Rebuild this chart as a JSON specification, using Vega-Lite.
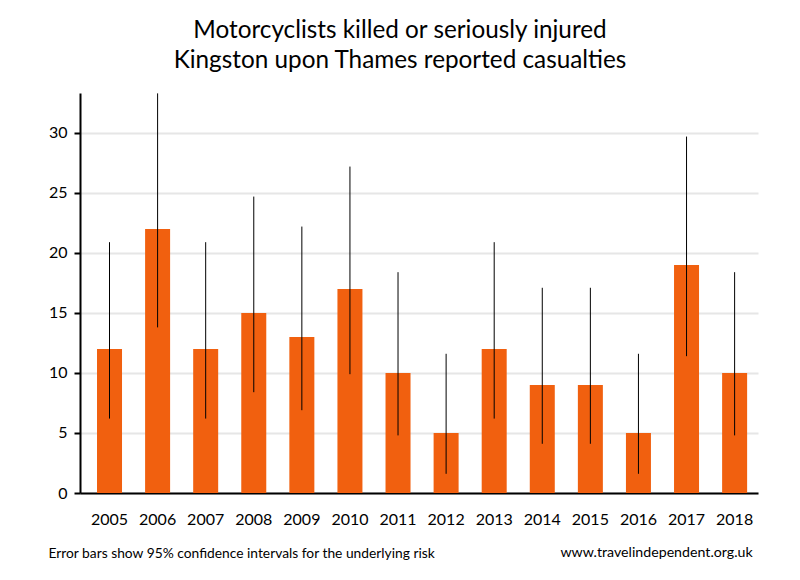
{
  "$schema": "https://vega.github.io/schema/vega-lite/v6.json",
  "width": 678,
  "height": 400,
  "autosize": {"type": "none"},
  "padding": {"left": 80, "top": 93, "right": 42, "bottom": 87},
  "background": "white",
  "config": {"view": {"stroke": null}, "font": "Lato"},
  "title": {
    "text": ["Motorcyclists killed or seriously injured", "Kingston upon Thames reported casualties"],
    "fontSize": 24.3,
    "fontWeight": "normal",
    "font": "Lato",
    "color": "black",
    "lineHeight": 30,
    "anchor": "middle",
    "dx": -19,
    "offset": 20
  },
  "data": {
    "values": [
      {"year": "2005", "value": 12, "lo": 6.2, "hi": 20.9},
      {"year": "2006", "value": 22, "lo": 13.8, "hi": 33.3},
      {"year": "2007", "value": 12, "lo": 6.2, "hi": 20.9},
      {"year": "2008", "value": 15, "lo": 8.4, "hi": 24.7},
      {"year": "2009", "value": 13, "lo": 6.9, "hi": 22.2},
      {"year": "2010", "value": 17, "lo": 9.9, "hi": 27.2},
      {"year": "2011", "value": 10, "lo": 4.8, "hi": 18.4},
      {"year": "2012", "value": 5, "lo": 1.6, "hi": 11.6},
      {"year": "2013", "value": 12, "lo": 6.2, "hi": 20.9},
      {"year": "2014", "value": 9, "lo": 4.1, "hi": 17.1},
      {"year": "2015", "value": 9, "lo": 4.1, "hi": 17.1},
      {"year": "2016", "value": 5, "lo": 1.6, "hi": 11.6},
      {"year": "2017", "value": 19, "lo": 11.4, "hi": 29.7},
      {"year": "2018", "value": 10, "lo": 4.8, "hi": 18.4}
    ]
  },
  "encoding": {
    "x": {
      "field": "year",
      "type": "ordinal",
      "scale": {"paddingInner": 0.48, "paddingOuter": 0.29, "align": 0.61},
      "axis": {
        "title": "Error bars show 95% confidence intervals for the underlying risk",
        "titleFontSize": 13.8,
        "titleFontWeight": "normal",
        "titleColor": "black",
        "titleAnchor": "start",
        "titleAlign": "left",
        "titleBaseline": "middle",
        "titleX": -32,
        "titleY": 60,
        "labelAngle": 0,
        "labelFontSize": 16,
        "labelColor": "black",
        "labelPadding": 18,
        "ticks": false,
        "domainColor": "black",
        "domainWidth": 2
      }
    }
  },
  "layer": [
    {
      "mark": {"type": "bar", "color": "#F1600F"},
      "encoding": {
        "y": {
          "field": "value",
          "type": "quantitative",
          "scale": {"domain": [0, 33.33], "nice": false},
          "axis": {
            "title": null,
            "values": [0, 5, 10, 15, 20, 25, 30],
            "labelFontSize": 16,
            "labelColor": "black",
            "labelPadding": 7,
            "tickColor": "black",
            "tickWidth": 2,
            "tickSize": 6,
            "domainColor": "black",
            "domainWidth": 2,
            "gridColor": "#E6E6E6",
            "gridWidth": 2
          }
        }
      }
    },
    {
      "mark": {"type": "rule", "color": "black", "strokeWidth": 1},
      "encoding": {
        "y": {"field": "lo", "type": "quantitative"},
        "y2": {"field": "hi"}
      }
    },
    {
      "data": {"values": [{"note": "www.travelindependent.org.uk"}]},
      "mark": {"type": "text", "align": "right", "baseline": "middle", "fontSize": 14.2, "color": "black", "dx": 18, "dy": 60},
      "encoding": {
        "x": {"datum": "2018"},
        "y": {"datum": 0},
        "text": {"field": "note"}
      }
    }
  ]
}
